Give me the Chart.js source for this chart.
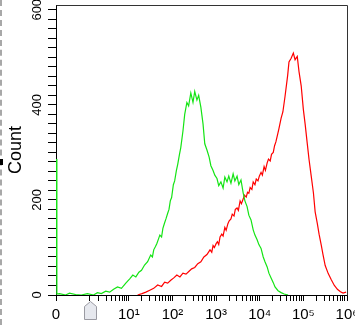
<!DOCTYPE html>
<html><head><meta charset="utf-8">
<script src="https://cdn.jsdelivr.net/npm/chart.js@4/dist/chart.umd.min.js"></script>
<style>
html,body{margin:0;padding:0;background:#fff;}
#wrap{position:relative;width:355px;height:325px;overflow:hidden;}
#edge{position:absolute;left:0;top:0;width:0;height:325px;border-left:2px dashed #a8a8a8;}
#dot{position:absolute;left:0;top:159px;width:3px;height:6px;background:#000;}
</style></head><body>
<div id="wrap"><canvas id="c" width="355" height="325"></canvas><div id="edge"></div><div id="dot"></div></div>
<script>
// log10 fluorescence (decades); -0.67 is the "0" channel at the axis origin
const greenX = [-0.67,-0.65,-0.59,-0.45,-0.36,-0.22,-0.09,0.05,0.19,0.28,0.37,0.47,0.56,0.65,0.74,0.83,0.93,1.02,1.09,1.16,1.23,1.29,1.36,1.43,1.50,1.54,1.57,1.61,1.64,1.68,1.71,1.75,1.78,1.82,1.85,1.89,1.92,1.95,1.98,2.02,2.05,2.09,2.12,2.16,2.19,2.24,2.28,2.33,2.37,2.42,2.47,2.51,2.56,2.60,2.65,2.70,2.74,2.79,2.84,2.88,2.93,2.97,3.02,3.06,3.11,3.16,3.20,3.25,3.29,3.34,3.39,3.43,3.48,3.52,3.57,3.62,3.66,3.71,3.75,3.80,3.85,3.89,3.94,3.98,4.03,4.08,4.12,4.17,4.21,4.26,4.31,4.35,4.42,4.49,4.56,4.65];
const greenY = [286,2,3,0,4,1,0,3,0,5,3,8,6,12,17,14,25,34,42,38,48,52,63,70,84,80,95,102,108,118,126,122,140,152,160,172,180,198,205,232,240,262,275,296,310,345,380,405,398,425,405,428,410,420,395,360,318,305,290,272,262,252,245,230,238,225,248,238,250,235,255,240,250,232,242,215,198,186,168,158,137,126,116,106,98,80,70,59,46,36,26,17,9,5,2,0];
const redX = [1.20,1.30,1.39,1.48,1.57,1.66,1.75,1.82,1.89,1.96,2.03,2.10,2.17,2.24,2.31,2.38,2.44,2.51,2.58,2.65,2.72,2.79,2.86,2.90,2.93,2.96,3.00,3.03,3.06,3.09,3.13,3.16,3.20,3.23,3.27,3.30,3.34,3.37,3.41,3.44,3.48,3.51,3.55,3.58,3.62,3.65,3.69,3.72,3.75,3.78,3.82,3.85,3.89,3.92,3.96,3.99,4.03,4.06,4.10,4.13,4.17,4.20,4.24,4.27,4.31,4.34,4.37,4.41,4.44,4.49,4.53,4.58,4.64,4.67,4.72,4.77,4.81,4.86,4.90,4.95,5.00,5.04,5.09,5.13,5.18,5.23,5.27,5.32,5.36,5.41,5.45,5.50,5.57,5.64,5.71,5.78,5.85,5.91,5.98];
const redY = [0,3,6,10,14,21,18,27,25,31,36,42,38,46,44,50,55,58,66,70,80,85,95,90,104,100,108,112,106,122,128,124,142,136,150,156,160,170,166,180,183,178,198,192,202,210,206,216,214,226,222,238,232,244,240,250,258,252,270,262,278,286,282,296,300,314,322,338,350,372,385,418,462,490,498,509,495,502,470,440,390,360,318,285,250,215,175,150,128,105,85,62,45,32,20,12,7,4,6];
const xTickValues = [-0.67, 0.1, 1, 2, 3, 4, 5, 6];
const xTickLabels = ['0', '', '10\u00b9', '10\u00b2', '10\u00b3', '10\u2074', '10\u2075', '10\u2076'];
const minorOffsets = [0.301, 0.477, 0.602, 0.699, 0.778, 0.845, 0.903, 0.954];
const minorDecades = [0, 1, 2, 3, 4, 5];
const yTickLabels = ['0', '200', '400', '600'];
const gateMarker = 0.1;

const FONT = "'Liberation Sans', Arial, sans-serif";
const allXTicks = xTickValues.slice();
minorDecades.forEach(d => minorOffsets.forEach(o => allXTicks.push(d + o)));
allXTicks.sort((a, b) => a - b);

const framePlugin = {
  id: 'frame',
  afterDraw(chart) {
    const {ctx, chartArea: a} = chart;
    ctx.save();
    ctx.strokeStyle = '#333';
    ctx.lineWidth = 1;
    ctx.beginPath();
    ctx.moveTo(Math.round(a.left) + 0.5, Math.round(a.top) + 0.5);
    ctx.lineTo(Math.round(a.right) + 0.5, Math.round(a.top) + 0.5);
    ctx.lineTo(Math.round(a.right) + 0.5, Math.round(a.bottom) + 0.5);
    ctx.stroke();
    ctx.restore();
  }
};
const markerPlugin = {
  id: 'gate',
  afterDraw(chart) {
    const {ctx, chartArea: a, scales} = chart;
    const x = Math.round(scales.x.getPixelForValue(gateMarker)) + 0.5;
    const y0 = a.bottom + 6.5;
    ctx.save();
    ctx.fillStyle = '#e6e8ee';
    ctx.strokeStyle = '#9a9aa2';
    ctx.lineWidth = 1;
    ctx.beginPath();
    ctx.moveTo(x, y0);
    ctx.lineTo(x + 6, y0 + 5);
    ctx.lineTo(x + 6, y0 + 18);
    ctx.lineTo(x - 6, y0 + 18);
    ctx.lineTo(x - 6, y0 + 5);
    ctx.closePath();
    ctx.fill();
    ctx.stroke();
    ctx.restore();
  }
};

new Chart(document.getElementById('c'), {
  type: 'line',
  data: {
    datasets: [
      {data: greenX.map((x, i) => ({x, y: greenY[i]})), borderColor: 'rgb(20,228,20)', borderWidth: 1.2},
      {data: redX.map((x, i) => ({x, y: redY[i]})), borderColor: 'rgb(255,0,0)', borderWidth: 1.2}
    ]
  },
  options: {
    responsive: false,
    animation: false,
    layout: {padding: {left: 0, right: 8, top: 5, bottom: 0}},
    plugins: {legend: {display: false}, tooltip: {enabled: false}},
    elements: {point: {radius: 0}, line: {tension: 0}},
    scales: {
      x: {
        type: 'linear', min: -0.67, max: 6,
        border: {display: true, color: '#000', width: 1},
        grid: {drawOnChartArea: false, drawTicks: true, tickLength: 6, color: '#000'},
        ticks: {
          autoSkip: false, maxRotation: 0, minRotation: 0, padding: 5, color: '#000',
          font: {family: FONT, size: 15},
          callback: v => { const i = xTickValues.findIndex(t => Math.abs(t - v) < 1e-6); return i >= 0 ? xTickLabels[i] : ''; }
        },
        afterBuildTicks: s => { s.ticks = allXTicks.map(v => ({value: v})); },
        afterFit: s => { s.height = 30; s.paddingLeft = 0; s.paddingRight = 0; }
      },
      y: {
        min: 0, max: 610,
        border: {display: true, color: '#000', width: 1},
        grid: {drawOnChartArea: false, drawTicks: true, tickLength: 8, color: '#000'},
        ticks: {
          stepSize: 20, includeBounds: false, autoSkip: false,
          minRotation: 90, maxRotation: 90, crossAlign: 'center', padding: 0,
          color: '#000', font: {family: FONT, size: 13},
          callback: v => yTickLabels.includes(String(v)) ? String(v) : ''
        },
        title: {display: true, text: 'Count', color: '#000', font: {family: FONT, size: 18}, padding: {top: 5, bottom: 0}},
        afterFit: s => { s.width = 56; s.paddingTop = 0; s.paddingBottom = 0; }
      }
    }
  },
  plugins: [framePlugin, markerPlugin]
});
</script>
</body></html>
